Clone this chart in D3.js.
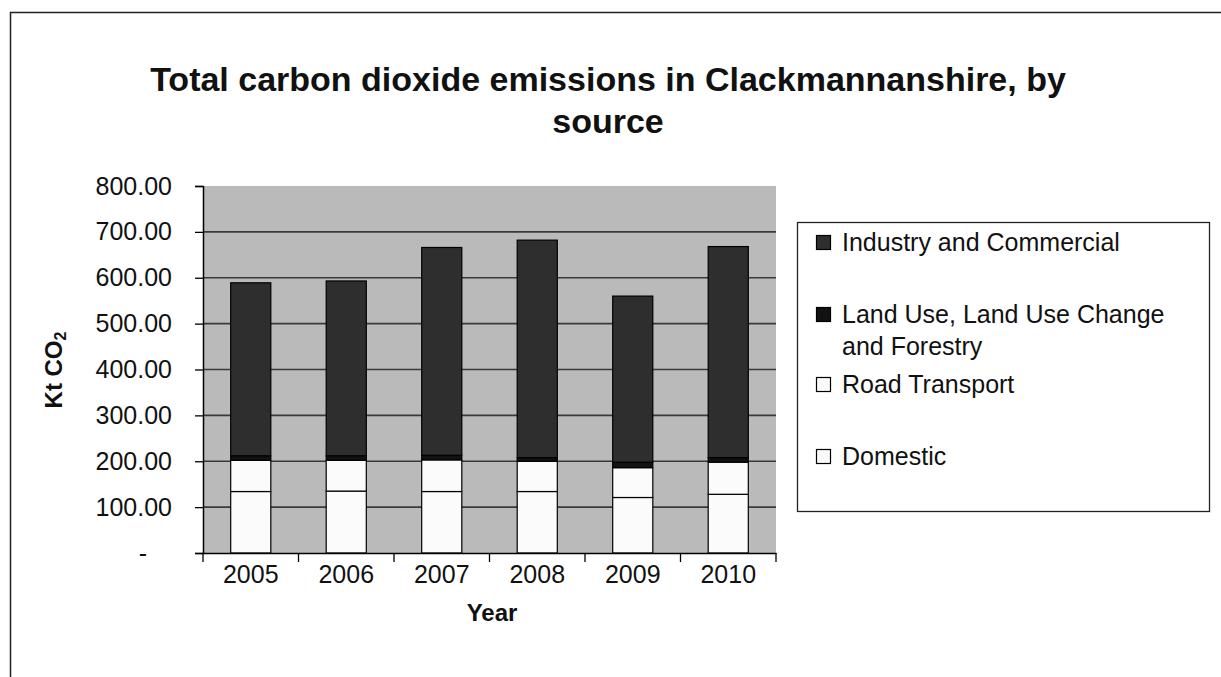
<!DOCTYPE html>
<html>
<head>
<meta charset="utf-8">
<script src="https://cdn.jsdelivr.net/npm/d3@7"></script>
<style>
  html, body { margin: 0; padding: 0; background: #fff; }
  svg { display: block; font-family: "Liberation Sans", Arial, sans-serif; }
</style>
</head>
<body>
<svg id="chart" width="1221" height="677"></svg>
<script>
// ---- Data ----
const years = ["2005", "2006", "2007", "2008", "2009", "2010"];
const domestic = [134, 135, 134, 134, 121, 128];
const roadTransport = [68, 67, 69, 66, 65, 70];
const landUse = [10, 10, 10, 8, 12, 10];
const industry = [377, 381, 453, 474, 362, 460];
const seriesKeys = ["Domestic", "Road Transport", "Land Use, Land Use Change and Forestry", "Industry and Commercial"];
const yTickValues = [0, 100, 200, 300, 400, 500, 600, 700, 800];
const yTickLabels = ["-", "100.00", "200.00", "300.00", "400.00", "500.00", "600.00", "700.00", "800.00"];

const titleLines = ["Total carbon dioxide emissions in Clackmannanshire, by", "source"];

// ---- Build table ----
const table = years.map((yr, i) => ({
  year: yr,
  "Domestic": domestic[i],
  "Road Transport": roadTransport[i],
  "Land Use, Land Use Change and Forestry": landUse[i],
  "Industry and Commercial": industry[i]
}));

const fills = {
  "Domestic": "#fbfbfb",
  "Road Transport": "#fbfbfb",
  "Land Use, Land Use Change and Forestry": "#121212",
  "Industry and Commercial": "#2e2e2e"
};

const svg = d3.select("#chart");

// outer chart border
svg.append("rect")
  .attr("x", 10.5).attr("y", 12.5)
  .attr("width", 1240).attr("height", 700)
  .attr("fill", "#fff").attr("stroke", "#222").attr("stroke-width", 1.5);

// title
svg.append("g").selectAll("text").data(titleLines).join("text")
  .attr("x", 608).attr("y", (d, i) => 91 + i * 42)
  .attr("text-anchor", "middle")
  .attr("font-size", 34).attr("font-weight", "bold").attr("fill", "#111")
  .text(d => d);

const plot = { left: 203, right: 776, top: 186, bottom: 553 };

const x = d3.scaleBand().domain(years)
  .range([plot.left, plot.right])
  .paddingInner(0.58).paddingOuter(0.29);
const y = d3.scaleLinear().domain([0, 800]).range([plot.bottom, plot.top]);

// plot background
svg.append("rect")
  .attr("x", plot.left).attr("y", plot.top)
  .attr("width", plot.right - plot.left).attr("height", plot.bottom - plot.top)
  .attr("fill", "#bababa");

// gridlines
svg.append("g").selectAll("line").data(yTickValues.filter(v => v > 0 && v < 800)).join("line")
  .attr("x1", plot.left).attr("x2", plot.right)
  .attr("y1", d => y(d)).attr("y2", d => y(d))
  .attr("stroke", "#3a3a3a").attr("stroke-width", 1.6);

// stacked bars
const stack = d3.stack().keys(seriesKeys);
const layers = stack(table);
svg.append("g").selectAll("g").data(layers).join("g")
  .attr("fill", d => fills[d.key])
  .selectAll("rect").data(d => d).join("rect")
  .attr("x", d => x(d.data.year))
  .attr("width", x.bandwidth())
  .attr("y", d => y(d[1]))
  .attr("height", d => y(d[0]) - y(d[1]))
  .attr("stroke", "#000").attr("stroke-width", 1.2);

// y axis
const yAxis = d3.axisLeft(y)
  .tickValues(yTickValues)
  .tickSize(8).tickPadding(23)
  .tickFormat((d, i) => yTickLabels[i]);
const gy = svg.append("g").attr("transform", `translate(${plot.left},0)`).call(yAxis);
gy.select(".domain").attr("stroke", "#000").attr("stroke-width", 1.5);
gy.selectAll(".tick line").attr("stroke", "#000").attr("stroke-width", 1.3);
gy.selectAll(".tick text")
  .attr("font-size", 25).attr("fill", "#111")
  .attr("font-family", "'Liberation Sans', Arial, sans-serif")
  .attr("dx", d => d === 0 ? -25 : 0);

// x axis
const xAxis = d3.axisBottom(x).tickSize(0).tickPadding(12);
const gx = svg.append("g").attr("transform", `translate(0,${plot.bottom})`).call(xAxis);
gx.select(".domain").attr("stroke", "#000").attr("stroke-width", 1.5);
gx.selectAll(".tick text")
  .attr("font-size", 25).attr("fill", "#111")
  .attr("font-family", "'Liberation Sans', Arial, sans-serif");
// category boundary ticks
const bounds = [plot.left].concat(years.map(yr => x(yr) + x.bandwidth() + x.step() * x.paddingInner() / 2));
gx.append("g").selectAll("line").data(bounds).join("line")
  .attr("x1", d => d).attr("x2", d => d)
  .attr("y1", 0).attr("y2", 9)
  .attr("stroke", "#000").attr("stroke-width", 1.3);

// axis titles
svg.append("text")
  .attr("x", 492).attr("y", 621)
  .attr("text-anchor", "middle")
  .attr("font-size", 24).attr("font-weight", "bold").attr("fill", "#111")
  .text("Year");

const yl = svg.append("text")
  .attr("transform", "translate(62,370) rotate(-90)")
  .attr("text-anchor", "middle")
  .attr("font-size", 24).attr("font-weight", "bold").attr("fill", "#111");
yl.append("tspan").text("Kt CO");
yl.append("tspan").attr("font-size", 16).attr("dy", 4).text("2");

// legend
const legend = svg.append("g");
legend.append("rect")
  .attr("x", 797.5).attr("y", 222.5)
  .attr("width", 412).attr("height", 289)
  .attr("fill", "#fff").attr("stroke", "#222").attr("stroke-width", 1.3);

const legendItems = [
  { key: "Industry and Commercial", lines: ["Industry and Commercial"], base: 251 },
  { key: "Land Use, Land Use Change and Forestry", lines: ["Land Use, Land Use Change", "and Forestry"], base: 323 },
  { key: "Road Transport", lines: ["Road Transport"], base: 393 },
  { key: "Domestic", lines: ["Domestic"], base: 465 }
];
const li = legend.selectAll("g.item").data(legendItems).join("g").attr("class", "item");
li.append("rect")
  .attr("x", 816.5).attr("y", d => d.base - 15.5)
  .attr("width", 14).attr("height", 14)
  .attr("fill", d => fills[d.key])
  .attr("stroke", "#000").attr("stroke-width", 1.2);
li.each(function(d) {
  d3.select(this).selectAll("text").data(d.lines).join("text")
    .attr("x", 842).attr("y", (t, i) => d.base + i * 32)
    .attr("font-size", 25).attr("fill", "#111")
    .text(t => t);
});
</script>
</body>
</html>
